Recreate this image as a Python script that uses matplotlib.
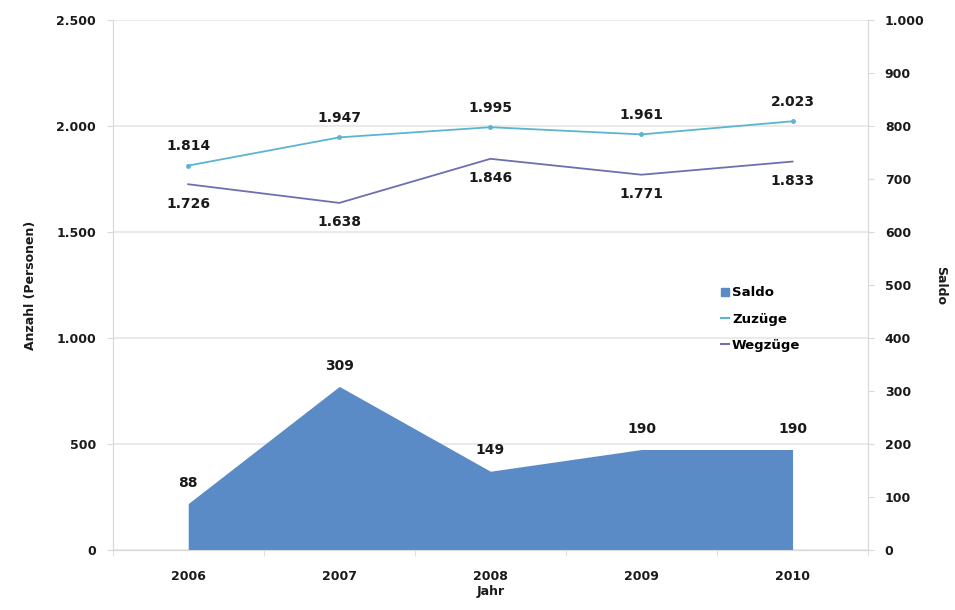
import matplotlib.pyplot as plt
from matplotlib.patches import Patch
from matplotlib.lines import Line2D

# Jahre und Werte
jahre = ["2006", "2007", "2008", "2009", "2010"]
zuzuege = [1814, 1947, 1995, 1961, 2023]
wegzuege = [1726, 1638, 1846, 1771, 1833]
saldo = [88, 309, 149, 190, 190]

c_saldo = "#5a8bc6"
c_zu = "#5cb5d0"
c_weg = "#6e6fae"
grau = "#d9d9d9"
txt = "#1a1a1a"


def fmt(v):
    return f"{v:,}".replace(",", ".")


plt.rcParams["font.family"] = "DejaVu Sans"
plt.rcParams["font.weight"] = "bold"
plt.rcParams["axes.labelweight"] = "bold"
plt.rcParams["font.size"] = 9

fig = plt.figure(figsize=(9.55, 6.1), dpi=100)
ax = fig.add_axes([0.118, 0.098, 0.791, 0.869])
ax2 = ax.twinx()

x = list(range(len(jahre)))

# Linien (linke Achse)
ax.plot(x, zuzuege, color=c_zu, lw=1.3, marker="o", ms=2.5)
ax.plot(x, wegzuege, color=c_weg, lw=1.3)
ax.set_ylim(0, 2500)
ax.set_yticks(range(0, 2501, 500))
ax.set_yticklabels([fmt(v) for v in range(0, 2501, 500)])
ax.set_xlim(-0.5, 4.5)
ax.set_xticks(x)
ax.set_xticklabels(jahre)
ax.set_xticks([i - 0.5 for i in range(6)], minor=True)
ax.tick_params(axis="x", which="major", length=0, pad=14, colors=txt)
ax.tick_params(axis="x", which="minor", length=4, color=grau)
ax.tick_params(axis="y", length=4, color=grau, colors=txt, pad=8)
ax.yaxis.grid(True, color="#e6e6e6", lw=1.2)
ax.set_axisbelow(True)
ax.set_ylabel("Anzahl (Personen)", labelpad=14, color=txt)
ax.set_xlabel("Jahr", labelpad=2, color=txt)

for i in x:
    ax.annotate(fmt(zuzuege[i]), (i, zuzuege[i]), xytext=(0, 14), textcoords="offset points",
                ha="center", va="center", color=txt, fontsize=10)
    ax.annotate(fmt(wegzuege[i]), (i, wegzuege[i]), xytext=(0, -14), textcoords="offset points",
                ha="center", va="center", color=txt, fontsize=10)

# Fläche Saldo (rechte Achse)
ax2.fill_between(x, saldo, color=c_saldo, lw=0)
ax2.set_ylim(0, 1000)
ax2.set_yticks(range(0, 1001, 100))
ax2.set_yticklabels([fmt(v) for v in range(0, 1001, 100)])
ax2.tick_params(axis="y", length=4, color=grau, colors=txt, pad=8)
ax2.set_ylabel("Saldo", rotation=270, labelpad=16, color=txt)
for i in x:
    ax2.annotate(str(saldo[i]), (i, saldo[i]), xytext=(0, 15), textcoords="offset points",
                 ha="center", va="center", color=txt, fontsize=10)

for a in (ax, ax2):
    a.spines["top"].set_visible(False)
    for s in ("left", "right", "bottom"):
        a.spines[s].set_color(grau)

handles = [Patch(color=c_saldo), Line2D([], [], color=c_zu, lw=1.5), Line2D([], [], color=c_weg, lw=1.5)]
ax2.legend(handles, ["Saldo", "Zuzüge", "Wegzüge"], loc="upper left", bbox_to_anchor=(0.79, 0.52),
           frameon=False, handlelength=0.6, handleheight=0.6, handletextpad=0.2,
           labelspacing=1.0, fontsize=9.5)

fig.savefig("out.png", dpi=100)
